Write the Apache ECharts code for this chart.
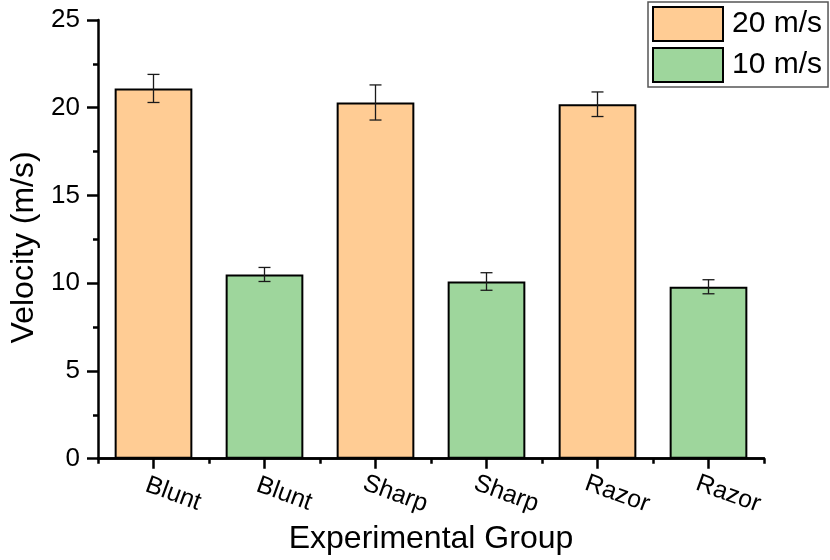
<!DOCTYPE html>
<html>
<head>
<meta charset="utf-8">
<script src="https://cdn.jsdelivr.net/npm/echarts@6/dist/echarts.min.js"></script>
<style>
  html, body { margin: 0; padding: 0; background: #fff; }
  #chart { width: 830px; height: 560px; }
</style>
</head>
<body>
<div id="chart"></div>
<script>
// Impact velocity by experimental group (mean ± error)
const categories = ['Blunt', 'Blunt', 'Sharp', 'Sharp', 'Razor', 'Razor'];
const seriesNames = ['20 m/s', '10 m/s'];
// '-' marks a category where that series has no bar
const fast = [21.1, '-', 20.3, '-', 20.2, '-'];
const fastErr = [0.8, '-', 1.0, '-', 0.7, '-'];
const slow = ['-', 10.5, '-', 10.1, '-', 9.8];
const slowErr = ['-', 0.4, '-', 0.5, '-', 0.4];
const yTicks = [0, 5, 10, 15, 20, 25];

const FONT = '"Liberation Sans", Arial, sans-serif';

function errorData(vals, errs) {
  const out = [];
  vals.forEach((v, i) => {
    if (v !== '-' && errs[i] !== '-') out.push([i, v, errs[i]]);
  });
  return out;
}

function renderError(params, api) {
  const x = api.value(0), v = api.value(1), e = api.value(2);
  const hi = api.coord([x, v + e]);
  const lo = api.coord([x, v - e]);
  const cap = 6;
  const style = { stroke: '#1a1a1a', lineWidth: 1.3 };
  return {
    type: 'group',
    children: [
      { type: 'line', shape: { x1: hi[0], y1: hi[1], x2: lo[0], y2: lo[1] }, style },
      { type: 'line', shape: { x1: hi[0] - cap, y1: hi[1], x2: hi[0] + cap, y2: hi[1] }, style },
      { type: 'line', shape: { x1: lo[0] - cap, y1: lo[1], x2: lo[0] + cap, y2: lo[1] }, style }
    ]
  };
}

const chart = echarts.init(document.getElementById('chart'), null, { renderer: 'canvas' });

chart.setOption({
  animation: false,
  backgroundColor: '#fff',
  textStyle: { fontFamily: FONT, color: '#000' },
  grid: { left: 98, right: 66, top: 20, bottom: 97, containLabel: false },
  legend: {
    data: seriesNames,
    orient: 'vertical',
    left: 648,
    top: 2,
    padding: [4, 6, 4, 4],
    itemGap: 5,
    itemWidth: 70,
    itemHeight: 34,
    borderColor: '#555',
    borderWidth: 1.5,
    backgroundColor: '#fff',
    selectedMode: false,
    icon: 'rect',
    itemStyle: { borderColor: '#000', borderWidth: 2 },
    textStyle: { fontFamily: FONT, fontSize: 30, color: '#000', padding: [0, 0, 0, 4] }
  },
  xAxis: [
    {
      type: 'category',
      data: categories,
      name: 'Experimental Group',
      nameLocation: 'middle',
      nameGap: 56,
      nameTextStyle: { fontFamily: FONT, fontSize: 32, color: '#000' },
      axisLine: { show: true, lineStyle: { color: '#000', width: 2.5 } },
      axisTick: { show: true, alignWithLabel: true, length: 10, lineStyle: { color: '#000', width: 2.5 } },
      axisLabel: {
        interval: 0,
        rotate: -20,
        margin: 28,
        align: 'center',
        verticalAlign: 'middle',
        padding: [0, 0, 0, 42],
        fontFamily: FONT,
        fontSize: 25,
        color: '#000'
      },
      splitLine: { show: false }
    },
    {
      type: 'category',
      data: categories,
      position: 'bottom',
      axisLine: { show: true, lineStyle: { color: '#000', width: 2.5 } },
      axisTick: { show: true, length: 5, lineStyle: { color: '#000', width: 2.5 } },
      axisLabel: { show: false },
      splitLine: { show: false }
    }
  ],
  yAxis: {
    type: 'value',
    min: yTicks[0],
    max: yTicks[yTicks.length - 1],
    interval: yTicks[1] - yTicks[0],
    name: 'Velocity (m/s)',
    nameLocation: 'middle',
    nameGap: 53,
    nameTextStyle: { fontFamily: FONT, fontSize: 32, color: '#000', padding: [0, 16, 0, 0] },
    axisLine: { show: true, lineStyle: { color: '#000', width: 2.5 } },
    axisTick: { show: true, length: 11, lineStyle: { color: '#000', width: 2.5 } },
    minorTick: { show: true, splitNumber: 2, length: 5, lineStyle: { color: '#000', width: 2.5 } },
    axisLabel: { margin: 18, fontFamily: FONT, fontSize: 26, color: '#000' },
    splitLine: { show: false },
    minorSplitLine: { show: false }
  },
  series: [
    {
      name: seriesNames[0],
      type: 'bar',
      data: fast,
      barWidth: '70%',
      barGap: '-100%',
      itemStyle: { color: '#FFCC94', borderColor: '#000', borderWidth: 2 }
    },
    {
      name: seriesNames[1],
      type: 'bar',
      data: slow,
      barWidth: '70%',
      barGap: '-100%',
      itemStyle: { color: '#9ED69C', borderColor: '#000', borderWidth: 2 }
    },
    {
      type: 'custom',
      renderItem: renderError,
      data: errorData(fast, fastErr),
      encode: { x: 0, y: 1 },
      z: 10,
      silent: true
    },
    {
      type: 'custom',
      renderItem: renderError,
      data: errorData(slow, slowErr),
      encode: { x: 0, y: 1 },
      z: 10,
      silent: true
    }
  ]
});
</script>
</body>
</html>
